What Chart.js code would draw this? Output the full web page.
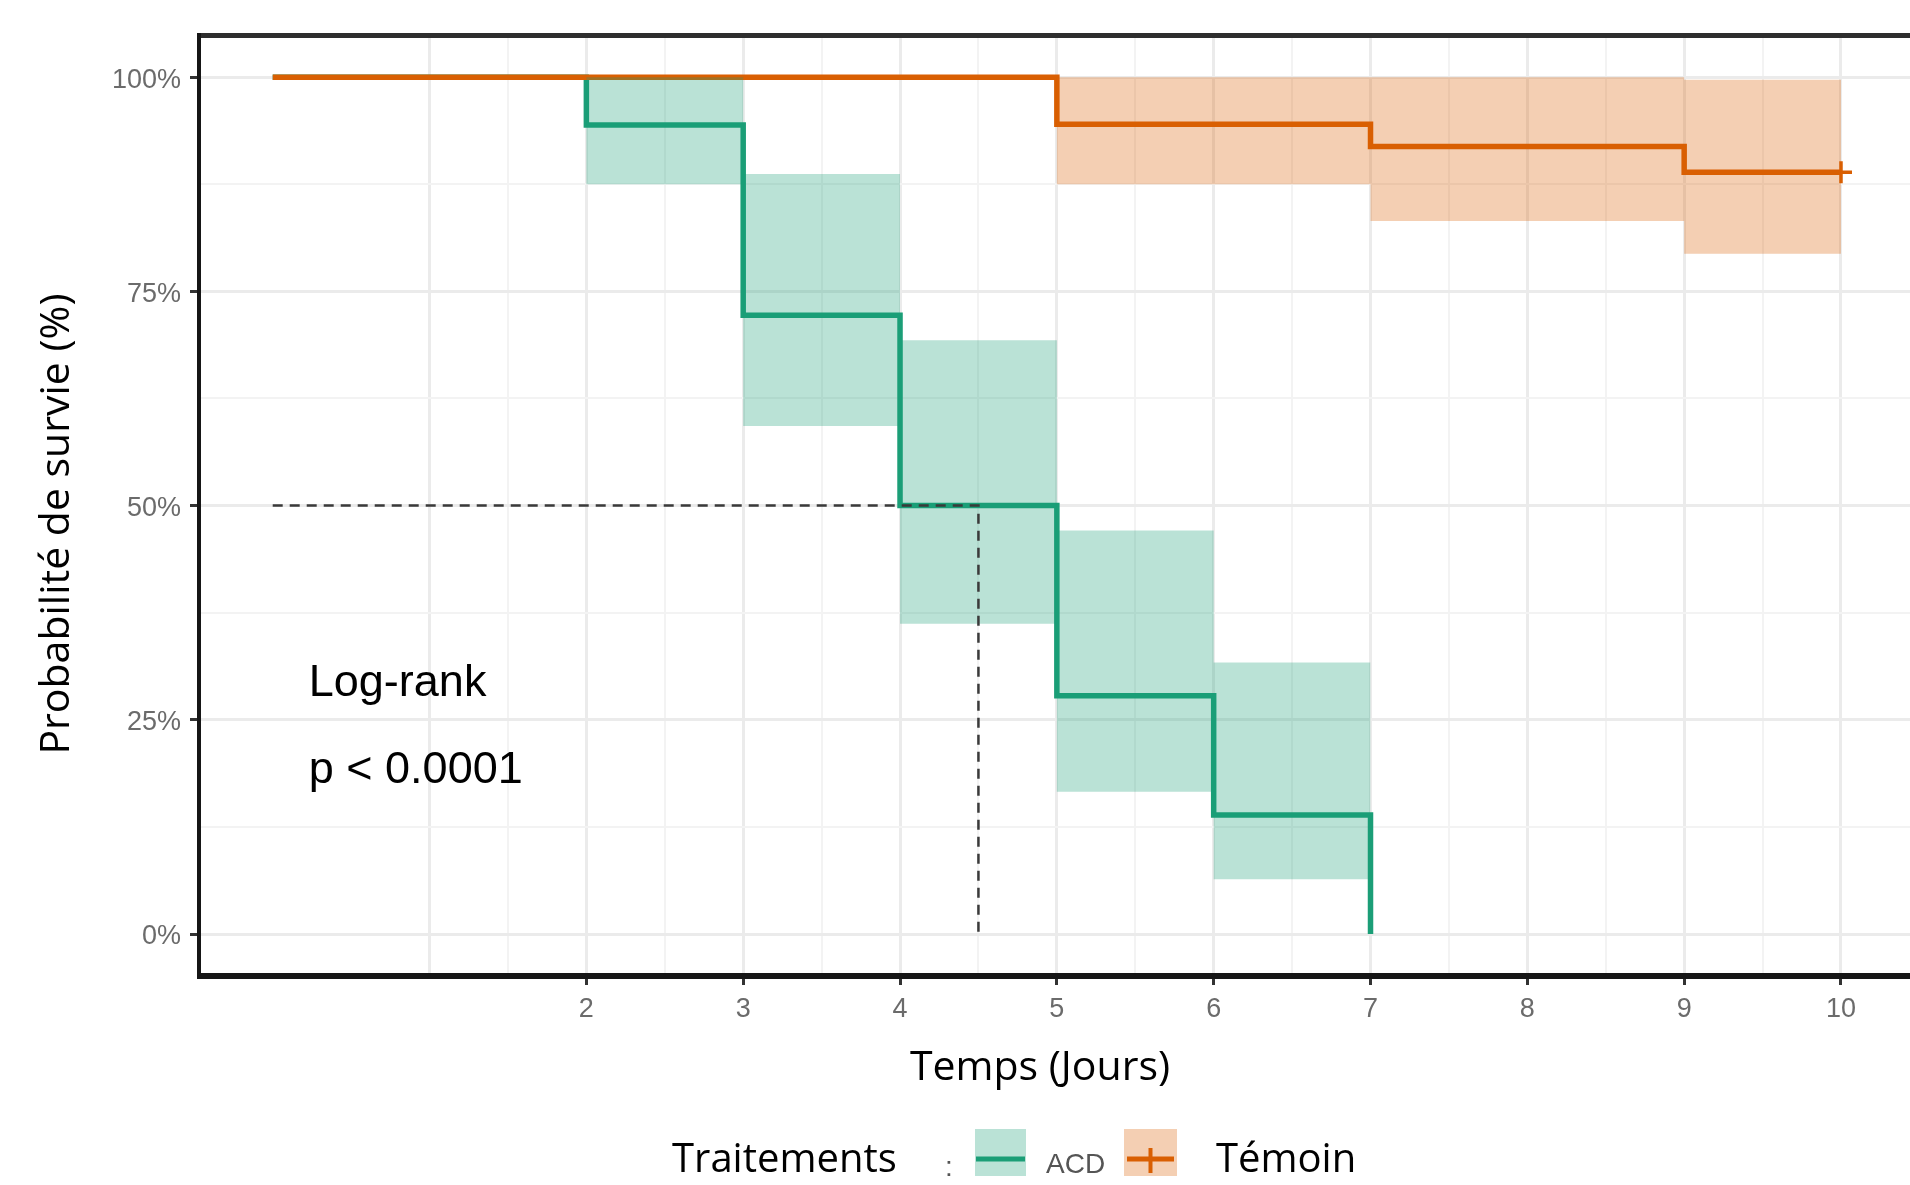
<!DOCTYPE html>
<html>
<head>
<meta charset="utf-8">
<script src="https://cdn.jsdelivr.net/npm/chart.js@4.4.1/dist/chart.umd.min.js"></script>
<style>
html, body { margin: 0; padding: 0; background: #ffffff; overflow: hidden; }
canvas { display: block; }
</style>
</head>
<body>
<canvas id="c" width="1910" height="1185"></canvas>
<script>
// ---- data ----
const acdTimes = [0, 2, 3, 4, 5, 6, 7];
const acdSurv  = [100, 94.4, 72.2, 50, 27.8, 13.9, 0];
const acdUpper = [100, 100, 88.7, 69.3, 47.1, 31.7, 31.7];
const acdLower = [100, 87.5, 59.3, 36.2, 16.6, 6.4, 6.4];

const temTimes = [0, 5, 7, 9, 10];
const temSurv  = [100, 94.5, 91.9, 88.9, 88.9];
const temUpper = [100, 100, 100, 99.7, 99.7];
const temLower = [100, 87.5, 83.2, 79.4, 79.4];

const medianX = [0, 4.5, 4.5];
const medianY = [50, 50, 0];

const xTickValues = [2, 3, 4, 5, 6, 7, 8, 9, 10];
const xTickLabels = ['2', '3', '4', '5', '6', '7', '8', '9', '10'];
const xGridValues = [1, 1.5, 2, 2.5, 3, 3.5, 4, 4.5, 5, 5.5, 6, 6.5, 7, 7.5, 8, 8.5, 9, 9.5, 10];
const yTickValues = [0, 25, 50, 75, 100];
const yTickLabels = ['0%', '25%', '50%', '75%', '100%'];
const yGridValues = [0, 12.5, 25, 37.5, 50, 62.5, 75, 87.5, 100];

const seriesNames = ['ACD', 'Témoin'];
const legendTitle = 'Traitements';
const xTitle = 'Temps (Jours)';
const yTitle = 'Probabilité de survie (%)';
const annotLines = ['Log-rank', 'p < 0.0001'];
const annotX = 0.23;
const annotY = [27.8, 17.6];

// ---- styles ----
const GREEN = '#1B9E77', ORANGE = '#D95F02';
const GREEN_FILL = 'rgba(27,158,119,0.3)', ORANGE_FILL = 'rgba(217,95,2,0.3)';

// detect a narrow font for tick labels
function hasFont(name) {
  const cv = document.createElement('canvas').getContext('2d');
  const s = 'abcdefghijklmnopqrstuvwxyz0123456789%';
  cv.font = '40px monospace'; const a = cv.measureText(s).width;
  cv.font = '40px "' + name + '", monospace'; const b = cv.measureText(s).width;
  return Math.abs(a - b) > 0.5;
}
const narrow = hasFont('Liberation Sans Narrow');
const tickFamily = narrow ? '"Liberation Sans Narrow", "Liberation Sans", sans-serif' : '"Liberation Sans", Arial, sans-serif';
const tickSize = narrow ? 32 : 27;
const keyLabelSize = narrow ? 33 : 28;

const pts = (xs, ys) => xs.map((x, i) => ({ x: x, y: ys[i] }));

const extras = {
  id: 'extras',
  afterLayout(chart) {
    // let the panel run to the right edge of the canvas, as in the reference
    const a = chart.chartArea;
    const xs = chart.scales.x;
    a.right = chart.width;
    xs.right = chart.width;
    xs.width = xs.right - xs.left;
    xs.configure();
  },
  beforeDraw(chart) {
    const ctx = chart.ctx;
    ctx.save();
    ctx.fillStyle = '#ffffff';
    ctx.fillRect(0, 0, chart.width, chart.height);
    ctx.restore();
  },
  afterDraw(chart) {
    const { ctx, chartArea: a, scales } = chart;
    const x = scales.x, y = scales.y;
    ctx.save();
    // panel border (top, left, bottom)
    ctx.fillStyle = '#2e2e2e';
    ctx.fillRect(a.left - 2, a.top - 3, chart.width - a.left + 2, 5);
    ctx.fillStyle = '#161616';
    ctx.fillRect(a.left - 2, a.top - 3, 4, a.bottom - a.top + 6);
    ctx.fillRect(a.left - 2, a.bottom - 3, chart.width - a.left + 2, 6);

    // annotation
    ctx.fillStyle = '#000000';
    ctx.font = '45px "Liberation Sans", Arial, sans-serif';
    ctx.textAlign = 'left';
    ctx.textBaseline = 'alphabetic';
    annotLines.forEach((t, i) => ctx.fillText(t, x.getPixelForValue(annotX), y.getPixelForValue(annotY[i])));

    // axis titles
    ctx.font = '41px "Open Sans", sans-serif';
    ctx.textAlign = 'center';
    ctx.fillText(xTitle, 1040, 1080);
    ctx.save();
    ctx.translate(69, 524);
    ctx.rotate(-Math.PI / 2);
    ctx.fillText(yTitle, 0, 0);
    ctx.restore();

    // legend
    ctx.textAlign = 'left';
    ctx.font = '40px "Open Sans", sans-serif';
    ctx.fillStyle = '#000000';
    ctx.fillText(legendTitle, 672, 1172);
    ctx.fillStyle = '#555555';
    ctx.font = keyLabelSize + 'px ' + tickFamily;
    ctx.fillText(':', 945, 1176);

    // ACD key
    ctx.fillStyle = GREEN_FILL;
    ctx.fillRect(975, 1129, 51, 47);
    ctx.strokeStyle = GREEN;
    ctx.lineWidth = 5;
    ctx.beginPath(); ctx.moveTo(976, 1159); ctx.lineTo(1025, 1159); ctx.stroke();
    ctx.fillStyle = '#555555';
    ctx.fillText(seriesNames[0], 1046, 1173);

    // Témoin key
    ctx.fillStyle = ORANGE_FILL;
    ctx.fillRect(1124, 1129, 53, 47);
    ctx.strokeStyle = ORANGE;
    ctx.lineWidth = 5;
    ctx.beginPath(); ctx.moveTo(1127, 1159); ctx.lineTo(1174, 1159); ctx.stroke();
    ctx.lineWidth = 4;
    ctx.beginPath(); ctx.moveTo(1150.5, 1148); ctx.lineTo(1150.5, 1173); ctx.stroke();
    ctx.fillStyle = '#000000';
    ctx.font = '40px "Open Sans", sans-serif';
    ctx.fillText(seriesNames[1], 1216, 1172);
    ctx.restore();
  }
};

const isIn = (arr, c) => c && c.tick && arr.includes(c.tick.value);

new Chart(document.getElementById('c'), {
  type: 'line',
  data: {
    datasets: [
      { label: 'ACD upper', data: pts(acdTimes, acdUpper), stepped: true, borderColor: 'rgba(0,0,0,0)', borderWidth: 1, pointRadius: 0, fill: false, order: 1 },
      { label: 'ACD lower', data: pts(acdTimes, acdLower), stepped: true, borderColor: 'rgba(0,0,0,0)', borderWidth: 1, pointRadius: 0, fill: '-1', backgroundColor: GREEN_FILL, order: 1 },
      { label: 'Témoin upper', data: pts(temTimes, temUpper), stepped: true, borderColor: 'rgba(0,0,0,0)', borderWidth: 1, pointRadius: 0, fill: false, order: 1 },
      { label: 'Témoin lower', data: pts(temTimes, temLower), stepped: true, borderColor: 'rgba(0,0,0,0)', borderWidth: 1, pointRadius: 0, fill: '-1', backgroundColor: ORANGE_FILL, order: 1 },
      { label: seriesNames[0], data: pts(acdTimes, acdSurv), stepped: true, borderColor: GREEN, borderWidth: 5.5, pointRadius: 0, fill: false, order: 3, borderJoinStyle: 'miter' },
      { label: seriesNames[1], data: pts(temTimes, temSurv), stepped: true, borderColor: ORANGE, borderWidth: 5.5, fill: false, order: 2, borderJoinStyle: 'miter',
        pointStyle: 'cross', pointRadius: c => (c.dataIndex === temTimes.length - 1 ? 11 : 0),
        pointBorderColor: ORANGE, pointBorderWidth: 3.5, pointBackgroundColor: ORANGE },
      { label: 'median', data: pts(medianX, medianY), borderColor: '#3a3a3a', borderWidth: 2.5, borderDash: [10, 7], pointRadius: 0, fill: false, order: 0 }
    ]
  },
  options: {
    responsive: false,
    animation: false,
    devicePixelRatio: 1,
    layout: { padding: { top: 36, right: 0, bottom: 0, left: 0 } },
    plugins: { legend: { display: false }, tooltip: { enabled: false } },
    elements: { line: { tension: 0 } },
    scales: {
      x: {
        type: 'linear', position: 'bottom', min: -0.47, max: 10.44,
        afterBuildTicks: s => { s.ticks = xGridValues.map(v => ({ value: v })); },
        afterFit: s => { s.height = 209; s.paddingLeft = 0; s.paddingRight = 0; },
        border: { display: false },
        grid: {
          color: c => (c.tick && Number.isInteger(c.tick.value) ? '#EBEBEB' : '#F3F3F3'),
          lineWidth: c => (c.tick && Number.isInteger(c.tick.value) ? 3 : 2),
          tickColor: c => (isIn(xTickValues, c) ? '#333333' : 'rgba(0,0,0,0)'),
          tickWidth: 3, tickLength: 9, drawTicks: true
        },
        ticks: {
          autoSkip: false, maxRotation: 0, minRotation: 0, padding: 8,
          color: '#6b6b6b', font: { family: tickFamily, size: tickSize },
          callback: v => { const i = xTickValues.indexOf(v); return i >= 0 ? xTickLabels[i] : ''; }
        }
      },
      y: {
        type: 'linear', position: 'left', min: -4.9, max: 104.8,
        afterBuildTicks: s => { s.ticks = yGridValues.map(v => ({ value: v })); },
        afterFit: s => { s.width = 199; s.paddingTop = 0; s.paddingBottom = 0; },
        border: { display: false },
        grid: {
          color: c => (isIn(yTickValues, c) ? '#EBEBEB' : '#F3F3F3'),
          lineWidth: c => (isIn(yTickValues, c) ? 3 : 2),
          tickColor: c => (isIn(yTickValues, c) ? '#333333' : 'rgba(0,0,0,0)'),
          tickWidth: 3, tickLength: 9, drawTicks: true
        },
        ticks: {
          autoSkip: false, padding: 9, labelOffset: 3,
          color: '#6b6b6b', font: { family: tickFamily, size: tickSize },
          callback: v => { const i = yTickValues.indexOf(v); return i >= 0 ? yTickLabels[i] : ''; }
        }
      }
    }
  },
  plugins: [extras]
});
</script>
</body>
</html>
